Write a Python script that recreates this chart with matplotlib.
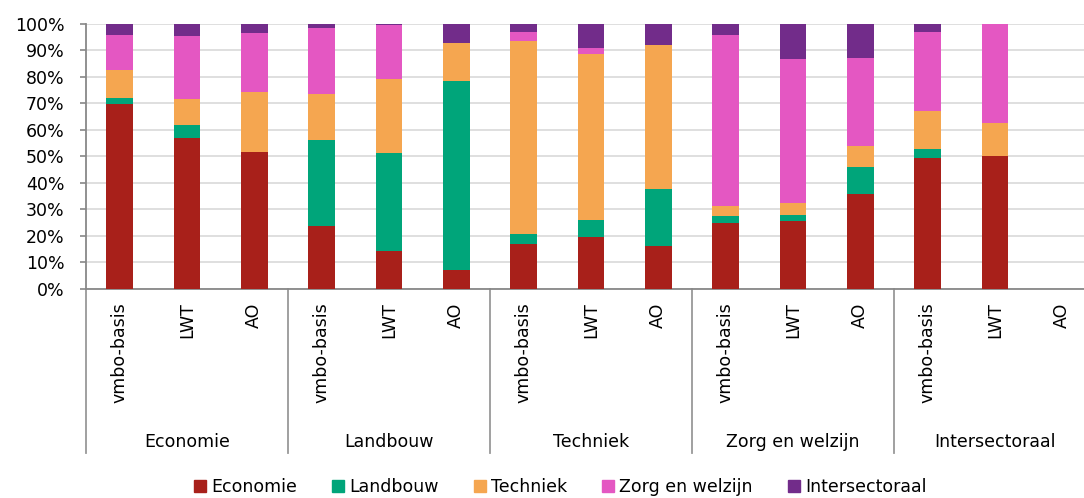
import numpy as np
import matplotlib.pyplot as plt
from matplotlib.patches import Patch

# categories
groups = ['Economie', 'Landbouw', 'Techniek', 'Zorg en welzijn', 'Intersectoraal']
types = ['vmbo-basis', 'LWT', 'AO']

# share (%) per series, 15 bars = 5 groups x 3 types
economie       = [69.7, 56.9, 51.7, 23.7, 14.1,  6.9, 16.8, 19.4, 16.0, 24.8, 25.6, 35.8, 49.3, 50.0, 0]
landbouw       = [ 2.2,  4.9,  0.0, 32.4, 37.1, 71.5,  3.8,  6.7, 21.5,  2.7,  2.3, 10.2,  3.4,  0.0, 0]
techniek       = [10.6,  9.7, 22.4, 17.2, 27.9, 14.4, 72.8, 62.3, 54.4,  3.8,  4.5,  7.8, 14.3, 12.5, 0]
zorg_welzijn   = [13.2, 23.8, 22.4, 25.2, 20.3,  0.0,  3.4,  2.5,  0.0, 64.5, 54.1, 33.3, 30.0, 37.5, 0]
intersectoraal = [ 4.3,  4.7,  3.5,  1.5,  0.6,  7.2,  3.2,  9.1,  8.1,  4.2, 13.5, 12.9,  3.0,  0.0, 0]

series = [('Economie', economie, '#A8201A'),
          ('Landbouw', landbouw, '#00A57A'),
          ('Techniek', techniek, '#F5A650'),
          ('Zorg en welzijn', zorg_welzijn, '#E457C2'),
          ('Intersectoraal', intersectoraal, '#722C8A')]

plt.rcParams['font.family'] = 'DejaVu Sans'
plt.rcParams['font.size'] = 12.5

fig = plt.figure(figsize=(10.84, 4.98), dpi=100)
W, H = 1084, 498
left_px, right_px, top_px, bot_px = 86, 1096, 23.7, 288.7
ax = fig.add_axes([left_px / W, 1 - bot_px / H, (right_px - left_px) / W, (bot_px - top_px) / H])

x = np.arange(len(groups) * len(types))
bottom = np.zeros(len(x))
for name, vals, col in series:
    vals = np.array(vals)
    ax.bar(x, vals, 0.4, bottom=bottom, color=col, zorder=3)
    bottom += vals

ax.set_xlim(-0.5, len(x) - 0.5)
ax.set_ylim(0, 100)
ax.set_yticks(np.arange(0, 101, 10))
ax.set_yticklabels([f'{v}%' for v in range(0, 101, 10)])
ax.yaxis.grid(True, color='#d9d9d9', lw=1.2, zorder=0)
ax.tick_params(axis='y', length=4.5, width=1.2, color='#888888', pad=11)

ax.set_xticks(x)
ax.set_xticklabels(types * len(groups), rotation=90, va='top', ha='center')
ax.tick_params(axis='x', length=0, pad=10)

for s in ['top', 'right']:
    ax.spines[s].set_visible(False)
for s in ['left', 'bottom']:
    ax.spines[s].set_color('#888888')
    ax.spines[s].set_linewidth(1.3)

# group separators and group labels below the axis
trans = ax.get_xaxis_transform()
sep_bottom = -(453 - bot_px) / (bot_px - top_px)
lab_y = -(442 - bot_px) / (bot_px - top_px)
for g in range(len(groups) + 1):
    ax.plot([g * 3 - 0.5] * 2, [0, sep_bottom], color='#999999', lw=1.3,
            transform=trans, clip_on=False)
for g, name in enumerate(groups):
    ax.text(g * 3 + 1, lab_y, name, transform=trans, ha='center', va='center')

handles = [Patch(color=col, label=name) for name, vals, col in series]
fig.legend(handles=handles, loc='center', bbox_to_anchor=(0.517, 1 - 487 / H), ncol=5,
           frameon=False, handlelength=0.7, handleheight=0.7, handletextpad=0.3,
           columnspacing=2.0)

fig.savefig('out.png', dpi=100)
